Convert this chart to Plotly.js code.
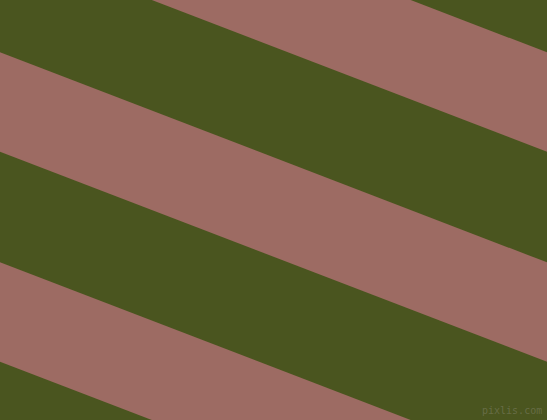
<!DOCTYPE html>
<html>
<head>
<meta charset="utf-8">
<script src="https://cdn.plot.ly/plotly-3.0.1.min.js"></script>
<style>
  html, body { margin: 0; padding: 0; background: #4A551F; }
  #myDiv { width: 547px; height: 420px; }
</style>
</head>
<body>
<div id="myDiv"></div>
<script>
// stripe data: where each pink band starts / ends on the left edge (x = 0)
var bandTops    = [-157.7, 52.3, 262.3];
var bandBottoms = [-58.3, 151.7, 361.7];
var slope       = 0.384;           // drop per px going right
var edgeX       = [0, 547];        // left and right edges of the picture

var green = "#4A551F";
var pink  = "#9D6B63";

var bands = bandTops.map(function(top, i) {
    var bot = bandBottoms[i];
    var dx = edgeX[1] - edgeX[0];
    return {
        type: 'scatter',
        mode: 'lines',
        x: [edgeX[0], edgeX[1], edgeX[1], edgeX[0], edgeX[0]],
        y: [top, top + slope * dx, bot + slope * dx, bot, top],
        fill: 'toself',
        fillcolor: pink,
        line: { width: 0, color: pink },
        hoverinfo: 'skip',
        showlegend: false
    };
});

var layout = {
    width: 547,
    height: 420,
    margin: { l: 0, r: 0, t: 0, b: 0, pad: 0 },
    paper_bgcolor: green,
    plot_bgcolor: green,
    xaxis: { range: [0, 547], visible: false, fixedrange: true },
    yaxis: { range: [420, 0], visible: false, fixedrange: true },
    annotations: [{
        text: "pixlis.com",
        xref: 'paper', yref: 'paper',
        x: 0.995, y: 0.005,
        xanchor: 'right', yanchor: 'bottom',
        showarrow: false,
        font: { family: "DejaVu Sans Mono", size: 10, color: "rgba(110,115,80,0.8)" }
    }]
};

Plotly.newPlot('myDiv', bands, layout, { displayModeBar: false, staticPlot: true });
</script>
</body>
</html>
